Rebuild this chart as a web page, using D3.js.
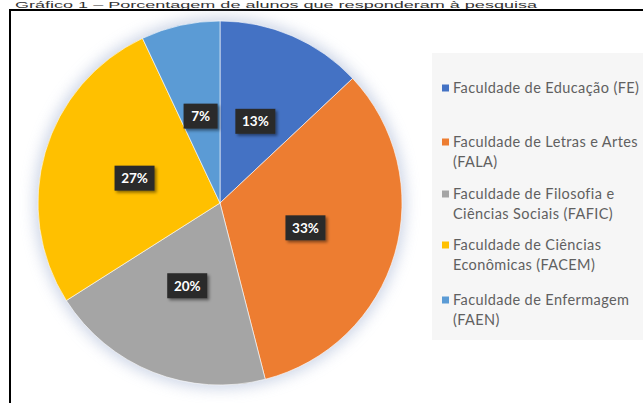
<!DOCTYPE html>
<html><head><meta charset="utf-8">
<script src="https://cdn.jsdelivr.net/npm/d3@7"></script>
<style>body{margin:0;background:#fff}svg{display:block}</style>
</head><body>
<svg id="c" width="643" height="403"></svg>
<script>
const categories = ["Faculdade de Educação (FE)", "Faculdade de Letras e Artes (FALA)", "Faculdade de Filosofia e Ciências Sociais (FAFIC)", "Faculdade de Ciências Econômicas  (FACEM)", "Faculdade de Enfermagem (FAEN)"];
const legendLines = [["Faculdade de Educação (FE)"], ["Faculdade de Letras e Artes", "(FALA)"], ["Faculdade de Filosofia e", "Ciências Sociais (FAFIC)"], ["Faculdade de Ciências", "Econômicas  (FACEM)"], ["Faculdade de Enfermagem", "(FAEN)"]];
const values = [13, 33, 20, 27, 7];
const colors = ["#4472C4", "#ED7D31", "#A5A5A5", "#FFC000", "#5B9BD5"];
const title = "Gráfico 1 – Porcentagem de alunos que responderam à pesquisa";

const svg = d3.select("#c");
const defs = svg.append("defs");
const glow = defs.append("filter").attr("id","glow").attr("x","-20%").attr("y","-20%").attr("width","140%").attr("height","140%");
glow.append("feGaussianBlur").attr("stdDeviation", 7);
const sh = defs.append("filter").attr("id","sh").attr("x","-30%").attr("y","-30%").attr("width","160%").attr("height","160%");
sh.append("feDropShadow").attr("dx",2).attr("dy",2).attr("stdDeviation",1.5).attr("flood-color","#000").attr("flood-opacity",0.45);

// title (small, at the very top as in the reference)
svg.append("text").attr("x", 15).attr("y", 7.5).attr("font-family","Liberation Sans, Arial, sans-serif")
  .attr("font-size", 9).attr("fill","#333").attr("textLength", 522).attr("lengthAdjust","spacingAndGlyphs").text(title);

// frame
svg.append("rect").attr("x", 10).attr("y", 10).attr("width", 700).attr("height", 500)
  .attr("fill","#fff").attr("stroke","#000").attr("stroke-width", 2);

// legend background
svg.append("rect").attr("x", 432).attr("y", 53).attr("width", 220).attr("height", 287).attr("fill","#f6f6f6");

const cx = 220, cy = 203, R = 182;
const pie = d3.pie().sort(null).value(d => d)(values);
const arc = d3.arc().innerRadius(0).outerRadius(R);
const g = svg.append("g").attr("transform", `translate(${cx},${cy})`);
g.append("circle").attr("r", R + 4).attr("fill", "#c3cde2").attr("opacity", 0.8).attr("filter","url(#glow)");
g.selectAll("path.s").data(pie).join("path").attr("class","s")
  .attr("d", arc).attr("fill", (d,i) => colors[i]).attr("stroke","#fff").attr("stroke-width",0.6);

const lab = d3.arc().innerRadius(89).outerRadius(89);
const lg = g.selectAll("g.l").data(pie).join("g").attr("class","l")
  .attr("transform", d => `translate(${lab.centroid(d)})`);
lg.append("rect").attr("x", d => d.data < 10 ? -17 : -20).attr("y", -12.5)
  .attr("width", d => d.data < 10 ? 34 : 40).attr("height", 25)
  .attr("fill", "#2a2a2a").attr("filter","url(#sh)");
lg.append("text").attr("text-anchor","middle").attr("dy","0.36em")
  .attr("font-family","Lato, 'Open Sans', sans-serif").attr("font-weight","bold").attr("font-size", 13.5)
  .attr("fill","#fff").text(d => d.data + "%");

// legend
const ly = [88, 142, 194, 245, 300];
const leg = svg.append("g");
legendLines.forEach((lines, i) => {
  leg.append("rect").attr("x", 442).attr("y", ly[i] - 3.5).attr("width", 7).attr("height", 7).attr("fill", colors[i]);
  lines.forEach((t, j) => {
    leg.append("text").attr("x", 453).attr("y", ly[i] + j * 20).attr("dy","0.35em")
      .attr("font-family","Lato, 'Open Sans', sans-serif").attr("font-size", 14.5).attr("letter-spacing", 0.4)
      .attr("fill","#606060").text(t);
  });
});
</script>
</body></html>
